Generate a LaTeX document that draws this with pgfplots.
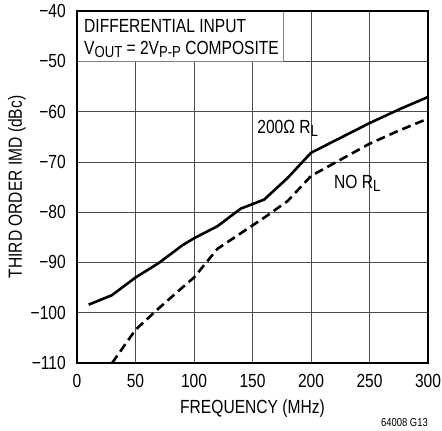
\documentclass[border=0pt]{standalone}
\usepackage{pgfplots}
\pgfplotsset{compat=1.18}
\usepackage{fontspec}
\setmainfont{Liberation Sans}[FakeStretch=0.82]
\newcommand\sub[1]{\raisebox{-3pt}{\fontsize{16}{18}\selectfont #1}}
\begin{document}
\begin{tikzpicture}
\begin{axis}[
    scale only axis,
    width=351pt, height=352pt,
    xmin=0, xmax=300, ymin=-110, ymax=-40,
    xtick={0,50,100,150,200,250,300},
    xticklabels={0,50,100,150,200,250,300},
    ytick={-110,-100,-90,-80,-70,-60,-50,-40},
    yticklabels={−110,−100,−90,−80,−70,−60,−50,−40},
    major tick length=0pt,
    grid=major,
    major grid style={line width=0.7pt, draw=black!70},
    axis line style={line width=1.5pt},
    font=\fontsize{19}{22}\selectfont,
    every tick label/.append style={inner sep=0pt},
    xticklabel style={yshift=-11pt},
    yticklabel style={xshift=-11pt},
    xlabel={FREQUENCY (MHz)},
    ylabel={THIRD ORDER IMD (dBc)},
    xlabel style={at={(axis description cs:0.5,-0.105)}, anchor=north, inner sep=0pt},
    ylabel style={at={(axis description cs:-0.171,0.5)}, anchor=center, inner sep=0pt},
]
% solid: 200 ohm load
\addplot[black, line width=2.6pt] coordinates {
    (10,-98.4) (30,-96.5) (50,-93) (70,-90.1) (90,-86.6) (100,-85.2)
    (120,-82.8) (140,-79.3) (160,-77.5) (180,-73.2) (200,-68.2)
    (250,-62.3) (275,-59.6) (300,-57.1)
};
% dashed: no load
\addplot[black, line width=2.6pt, dash pattern=on 9pt off 5pt] coordinates {
    (30,-110) (50,-103.4) (70,-99.1) (90,-95) (100,-93) (120,-87.3)
    (140,-84.2) (160,-81.1) (180,-77.8) (200,-72.8) (225,-69.6)
    (250,-66.4) (275,-63.8) (300,-61.4)
};
\draw[fill=white, draw=black!50, line width=0.6pt] (rel axis cs:0,1) rectangle (axis cs:176,-50);
\node[anchor=base west, inner sep=0pt] at (axis cs:6,-44.2) {DIFFERENTIAL INPUT};
\node[anchor=base west, inner sep=0pt] at (axis cs:6,-48.75) {V\sub{OUT} = 2V\sub{P-P} COMPOSITE};
\node[inner sep=0pt] at (axis cs:180,-63.3) {200Ω R\sub{L}};
\node[inner sep=0pt] at (axis cs:239.5,-74.2) {NO R\sub{L}};
\end{axis}
\draw[line width=1.5pt] (current axis.south west) rectangle (current axis.north east);
\node[anchor=east, inner sep=0pt, font=\fontsize{11.5}{14}\selectfont] at ([yshift=-59.5pt]current axis.south east) {64008 G13};
\pgfresetboundingbox
\path[use as bounding box] (current axis.south west) ++(-77pt,-68pt) rectangle ++(442pt,431pt);
\end{tikzpicture}
\end{document}
